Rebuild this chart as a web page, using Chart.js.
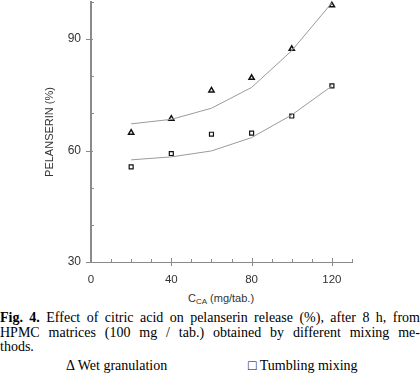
<!DOCTYPE html>
<html>
<head>
<meta charset="utf-8">
<script src="https://cdn.jsdelivr.net/npm/chart.js@4/dist/chart.umd.min.js"></script>
<style>
  html, body { margin: 0; padding: 0; background: #fff; }
  #wrap { position: relative; width: 420px; height: 377px; overflow: hidden; }
  #chartBox { position: absolute; left: 0; top: 0; width: 420px; height: 292px; }
  #xTitle { position: absolute; left: 0; width: 442px; top: 292px; text-align: center;
    font: 11px "Liberation Sans", Arial, sans-serif; color: #333; }
  #xTitle sub { font-size: 8px; vertical-align: -2px; }
  .cap { position: absolute; left: 0; width: 420px; font: 14px "Liberation Serif", "Times New Roman", serif;
    color: #000; line-height: 14px; text-align: justify; text-align-last: justify; white-space: nowrap; }
  .cap.last { text-align-last: left; }
  .leg { position: absolute; font: 14px "Liberation Serif", "Times New Roman", serif; color: #000; }
</style>
</head>
<body>
<div id="wrap">
  <div id="chartBox"><canvas id="chart" width="420" height="292"></canvas></div>
  <div id="xTitle">C<sub>CA</sub> (mg/tab.)</div>
  <div class="cap" style="top:311px; white-space:normal"><b>Fig. 4.</b> Effect of citric acid on pelanserin release (%), after 8 h, from</div>
  <div class="cap" style="top:326px; white-space:normal">HPMC matrices (100 mg / tab.) obtained by different mixing me-</div>
  <div class="cap last" style="top:340px">thods.</div>
  <div class="leg" style="left:66px; top:358px">&Delta; Wet granulation</div>
  <div class="leg" style="left:248px; top:358px">&#9633; Tumbling mixing</div>
</div>
<script>
const concentrations = [20, 40, 60, 80, 100, 120];
const wetObserved = [64.8, 68.6, 76.2, 79.6, 87.4, 99.1];
const wetFitted = [67.2, 68.4, 71.4, 77.0, 86.9, 99.8];
const tumblingObserved = [55.6, 59.2, 64.4, 64.7, 69.3, 77.4];
const tumblingFitted = [57.5, 58.3, 59.9, 63.5, 69.6, 77.4];
const yLabels = [30, 60, 90];
const xLabels = [0, 40, 80, 120];

const axisGray = '#8a8a8a';

const toPoints = (xs, ys) => xs.map((x, i) => ({ x, y: ys[i] }));

// little tick marks like the original plot: long ones cross the axis, minor ones sit inside
const tickMarks = {
  id: 'tickMarks',
  afterDraw(chart) {
    const { ctx, scales: { x, y } } = chart;
    ctx.save();
    ctx.strokeStyle = axisGray;
    ctx.lineWidth = 1;
    ctx.beginPath();
    for (let v = 10; v <= 130; v += 10) {
      const px = Math.round(x.getPixelForValue(v)) + 0.5;
      const by = y.bottom;
      if (xLabels.includes(v)) {
        ctx.moveTo(px, by - 4); ctx.lineTo(px, by + 4);
      } else {
        ctx.moveTo(px, by - 3); ctx.lineTo(px, by);
      }
    }
    for (let v = 30; v <= 100; v += 10) {
      const py = Math.round(y.getPixelForValue(v)) + 0.5;
      const lx = x.left;
      if (yLabels.includes(v)) {
        ctx.moveTo(lx - 5, py); ctx.lineTo(lx + 2, py);
      } else {
        ctx.moveTo(lx, py); ctx.lineTo(lx + 3, py);
      }
    }
    ctx.stroke();
    ctx.restore();
  }
};

const ctx = document.getElementById('chart').getContext('2d');
new Chart(ctx, {
  type: 'scatter',
  data: {
    datasets: [
      {
        label: 'Wet granulation fit',
        data: toPoints(concentrations, wetFitted),
        showLine: true,
        borderColor: '#9a9a9a',
        borderWidth: 1,
        pointRadius: 0,
        tension: 0,
        clip: false,
      },
      {
        label: 'Tumbling mixing fit',
        data: toPoints(concentrations, tumblingFitted),
        showLine: true,
        borderColor: '#9a9a9a',
        borderWidth: 1,
        pointRadius: 0,
        tension: 0,
        clip: false,
      },
      {
        label: 'Wet granulation',
        data: toPoints(concentrations, wetObserved),
        pointStyle: 'triangle',
        pointRadius: 3,
        borderColor: '#111',
        backgroundColor: '#fff',
        borderWidth: 1.5,
        clip: false,
      },
      {
        label: 'Tumbling mixing',
        data: toPoints(concentrations, tumblingObserved),
        pointStyle: 'rect',
        pointRadius: 2.8,
        borderColor: '#111',
        backgroundColor: '#fff',
        borderWidth: 1.2,
        clip: false,
      },
    ]
  },
  options: {
    responsive: false,
    animation: false,
    layout: { autoPadding: false, padding: { left: 0, right: 68, top: 2, bottom: 0 } },
    plugins: {
      legend: { display: false },
      tooltip: { enabled: false },
    },
    scales: {
      x: {
        type: 'linear',
        min: 0,
        max: 130,
        afterFit: (scale) => {
          scale.height = 30;
          scale.paddingLeft = 0;
          scale.paddingRight = 0;
        },
        grid: { display: false, drawTicks: false },
        border: { display: true, color: axisGray, width: 1 },
        ticks: {
          stepSize: 10,
          padding: 11,
          autoSkip: false,
          maxRotation: 0,
          color: '#333',
          font: { family: '"Liberation Sans", Arial, sans-serif', size: 11.5 },
          callback: (v) => (xLabels.includes(v) ? String(v) : ''),
        },
      },
      y: {
        min: 30,
        max: 100,
        afterFit: (scale) => {
          scale.width = 91;
          scale.paddingTop = 0;
          scale.paddingBottom = 0;
        },
        grid: { display: false, drawTicks: false },
        border: { display: true, color: axisGray, width: 2 },
        title: {
          display: true,
          text: 'PELANSERIN (%)',
          color: '#333',
          font: { family: '"Liberation Sans", Arial, sans-serif', size: 11 },
          padding: { top: 43, bottom: 0 },
        },
        ticks: {
          stepSize: 10,
          padding: 10,
          autoSkip: false,
          color: '#333',
          font: { family: '"Liberation Sans", Arial, sans-serif', size: 12 },
          callback: (v) => (yLabels.includes(v) ? String(v) : ''),
        },
      },
    },
  },
  plugins: [tickMarks],
});
</script>
</body>
</html>
